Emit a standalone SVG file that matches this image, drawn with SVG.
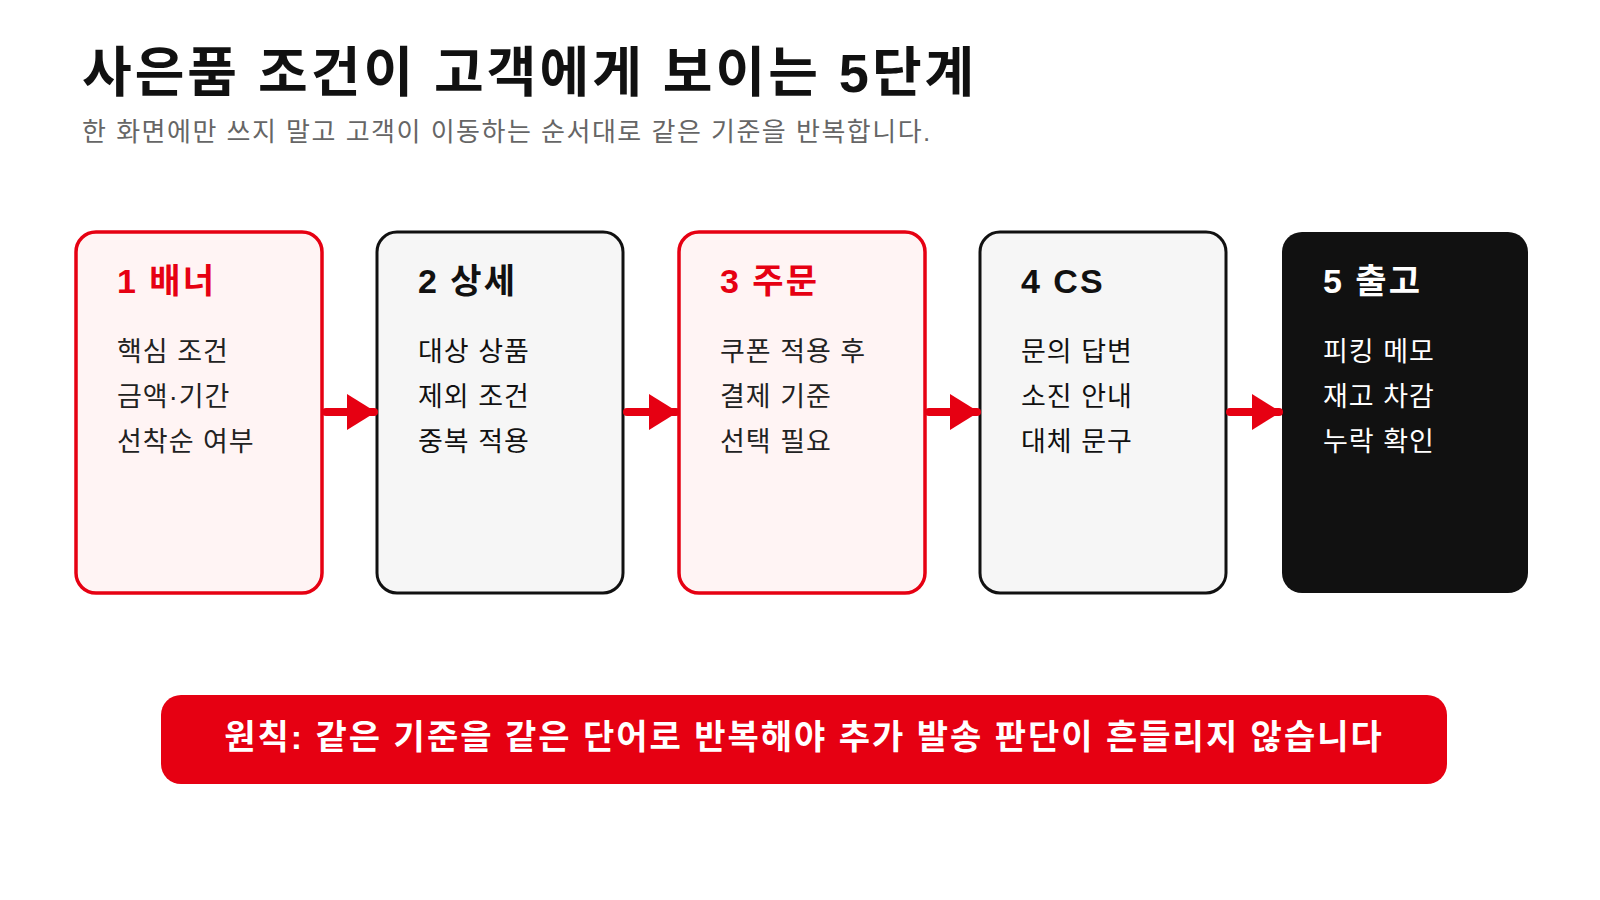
<svg xmlns="http://www.w3.org/2000/svg" width="1600" height="900" viewBox="0 0 1600 900">
<style>
text{font-family:"Liberation Sans","Noto Sans CJK KR",sans-serif}
.t{font-size:54px;font-weight:bold;fill:#111;letter-spacing:3px}
.s{font-size:26px;fill:#666;letter-spacing:1.5px}
.h{font-size:34px;font-weight:bold;letter-spacing:2px}
.b{font-size:27px;letter-spacing:1px}
.red rect{fill:#fff4f4;stroke:#e60012;stroke-width:3.5}
.red .h{fill:#e60012}.red .b{fill:#222}
.gr rect{fill:#f6f6f6;stroke:#111;stroke-width:3}
.gr .h,.gr .b{fill:#111}
.bk rect{fill:#111}
.bk .h,.bk .b{fill:#fff}
.c line{stroke:#e60012;stroke-width:8;stroke-linecap:round}
.c path{fill:#e60012}
</style>
<text class="t" x="82" y="92">사은품 조건이 고객에게 보이는 5단계</text>
<text class="s" x="82" y="141">한 화면에만 쓰지 말고 고객이 이동하는 순서대로 같은 기준을 반복합니다.</text>
<g id="n1" class="red"><rect x="76" y="232" width="246" height="361" rx="20"/><text class="h" x="117" y="293">1 배너</text><text class="b" x="117" y="361">핵심 조건</text><text class="b" x="117" y="406">금액·기간</text><text class="b" x="117" y="451">선착순 여부</text></g>
<g id="n2" class="gr"><rect x="377" y="232" width="246" height="361" rx="20"/><text class="h" x="418" y="293">2 상세</text><text class="b" x="418" y="361">대상 상품</text><text class="b" x="418" y="406">제외 조건</text><text class="b" x="418" y="451">중복 적용</text></g>
<g id="n3" class="red"><rect x="679" y="232" width="246" height="361" rx="20"/><text class="h" x="720" y="293">3 주문</text><text class="b" x="720" y="361">쿠폰 적용 후</text><text class="b" x="720" y="406">결제 기준</text><text class="b" x="720" y="451">선택 필요</text></g>
<g id="n4" class="gr"><rect x="980" y="232" width="246" height="361" rx="20"/><text class="h" x="1021" y="293">4 CS</text><text class="b" x="1021" y="361">문의 답변</text><text class="b" x="1021" y="406">소진 안내</text><text class="b" x="1021" y="451">대체 문구</text></g>
<g id="n5" class="bk"><rect x="1282" y="232" width="246" height="361" rx="20"/><text class="h" x="1323" y="293">5 출고</text><text class="b" x="1323" y="361">피킹 메모</text><text class="b" x="1323" y="406">재고 차감</text><text class="b" x="1323" y="451">누락 확인</text></g>
<g id="connectors" class="c">
<line x1="326" y1="412" x2="374" y2="412"/><path d="M347 394 L376 412 L347 430Z"/>
<line x1="627" y1="412" x2="676" y2="412"/><path d="M649 394 L678 412 L649 430Z"/>
<line x1="929" y1="412" x2="977" y2="412"/><path d="M950 394 L979 412 L950 430Z"/>
<line x1="1230" y1="412" x2="1279" y2="412"/><path d="M1252 394 L1281 412 L1252 430Z"/>
</g>
<g id="banner"><rect x="161" y="695" width="1286" height="89" rx="20" fill="#e60012"/><text x="804" y="749" text-anchor="middle" font-size="34" font-weight="bold" fill="#fff" letter-spacing="2">원칙: 같은 기준을 같은 단어로 반복해야 추가 발송 판단이 흔들리지 않습니다</text></g>
</svg>
